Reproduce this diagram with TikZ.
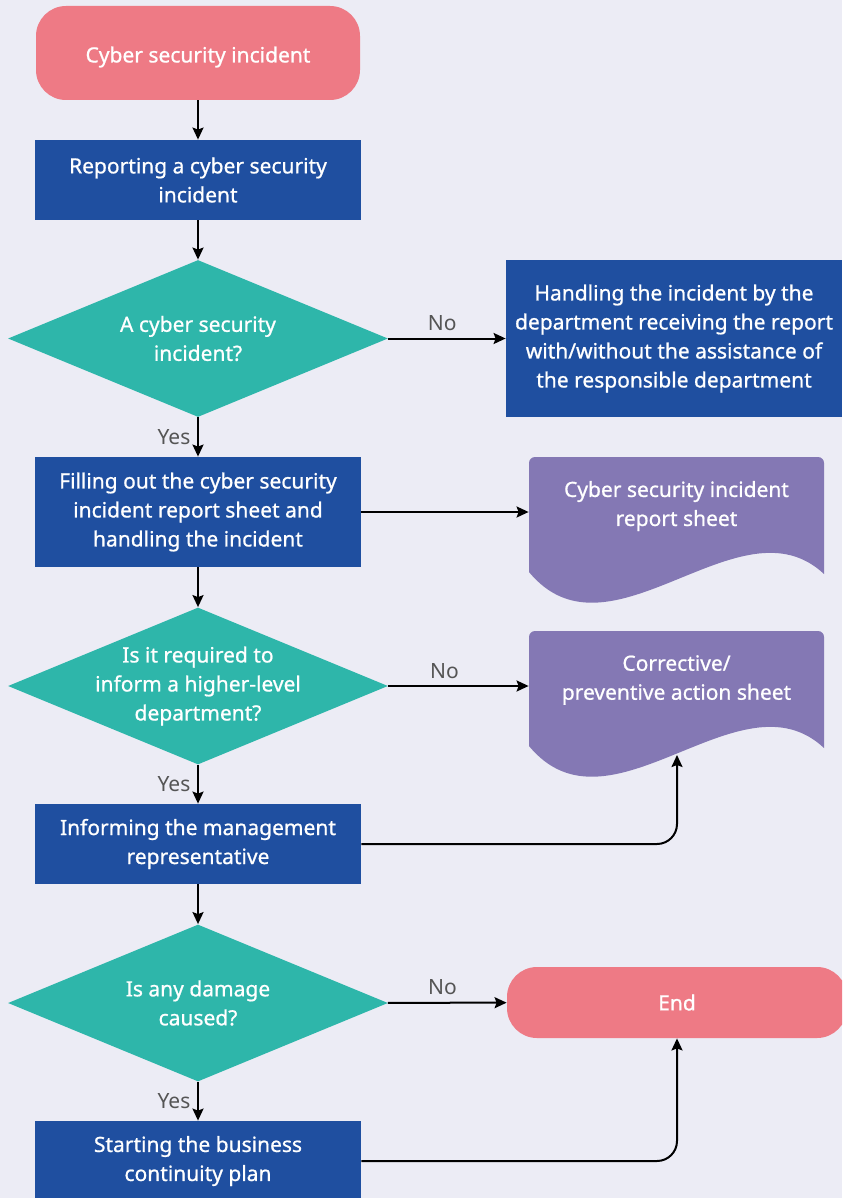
\documentclass[tikz,border=0pt]{standalone}
\usepackage{fontspec}
\setmainfont{Noto Sans}
\newfontfamily\boxfont{Noto Sans}[FakeBold=0.8]
\usetikzlibrary{shapes.geometric,arrows.meta}
\definecolor{bgcol}{HTML}{ECECF5}
\definecolor{termcol}{HTML}{EE7A85}
\definecolor{proccol}{HTML}{1F4FA0}
\definecolor{quescol}{HTML}{2EB6AA}
\definecolor{docucol}{HTML}{8478B4}
\definecolor{lblcol}{HTML}{555555}

\begin{document}
\begin{tikzpicture}[x=0.5pt,y=-0.5pt,
  every node/.style={font=\boxfont\fontsize{10.5}{14.5}\selectfont, text=white, align=center},
  term/.style={fill=termcol, rounded corners=15pt, minimum width=162pt, minimum height=47pt},
  proc/.style={fill=proccol, minimum width=163pt, minimum height=40pt, inner sep=0pt},
  ques/.style={diamond, fill=quescol, shape aspect=2.42, minimum width=190pt, minimum height=78.5pt, inner sep=-12pt},
  sheet/.style={minimum width=147.5pt, inner sep=0pt},
  lbl/.style={text=lblcol, font=\fontsize{10.5}{14.5}\selectfont},
  flow/.style={-{Stealth[length=6pt,width=5.5pt,inset=1pt]}, line width=1pt, black}]
\useasboundingbox (0,0) rectangle (842,1198);
\clip (0,0) rectangle (842,1198);
\fill[bgcol] (0,0) rectangle (842,1198);

\fill[docucol] (529,572) [rounded corners=3pt] -- (529,457) -- (824,457) [sharp corners] -- (824,574) .. controls (740,495) and (610,670) .. (529,572) -- cycle;
\fill[docucol] (529,746) [rounded corners=3pt] -- (529,631) -- (824,631) [sharp corners] -- (824,748) .. controls (740,669) and (610,844) .. (529,746) -- cycle;

\node[term] (start) at (198,53) {\raisebox{-2pt}[\height][\depth]{Cyber security incident}};
\node[proc] (report) at (198,180) {Reporting a cyber security\\incident};
\node[ques] (q1) at (198,338.5) {A cyber security\\incident?};
\node[proc, minimum width=168pt, minimum height=78.5pt] (handle) at (674,338.5) {Handling the incident by the\\department receiving the report\\with/without the assistance of\\the responsible department};
\node[proc, minimum height=55pt] (fill) at (198,512) {Filling out the cyber security\\incident report sheet and\\handling the incident};
\node[sheet] (sheet1) at (676.5,506) {Cyber security incident\\report sheet};
\node[ques] (q2) at (198,686) {Is it required to\\inform a higher-level\\department?};
\node[sheet] (sheet2) at (676.5,680) {Corrective/\\preventive action sheet};
\node[proc] (inform) at (198,844) {Informing the management\\representative};
\node[ques] (q3) at (198,1003) {Is any damage\\caused?};
\node[term, minimum width=170pt, minimum height=35.5pt] (end) at (677,1002.5) {End};
\node[proc] (bcp) at (198,1161) {Starting the business\\continuity plan};

\coordinate (tip2) at (677,755);

\draw[flow] (start) -- (report);
\draw[flow] (report) -- (q1);
\draw[flow] (q1) -- node[lbl, left, pos=0.5] {Yes} (fill);
\draw[flow] (q1) -- node[lbl, above, pos=0.46] {No} (handle);
\draw[flow] (fill.east) -- (fill.east -| sheet1.west);
\draw[flow] (fill) -- (q2);
\draw[flow] (q2) -- node[lbl, left, pos=0.5] {Yes} (inform);
\draw[flow] (q2.east) -- node[lbl, above, pos=0.4] {No} (q2.east -| sheet2.west);
\draw[flow, rounded corners=10pt] (inform.east) -| (tip2);
\draw[flow] (inform) -- (q3);
\draw[flow] (q3) -- node[lbl, left, pos=0.5] {Yes} (bcp);
\draw[flow] (q3) -- node[lbl, above, pos=0.46] {No} (end);
\draw[flow, rounded corners=10pt] (bcp.east) -| (end.south);
\end{tikzpicture}
\end{document}
